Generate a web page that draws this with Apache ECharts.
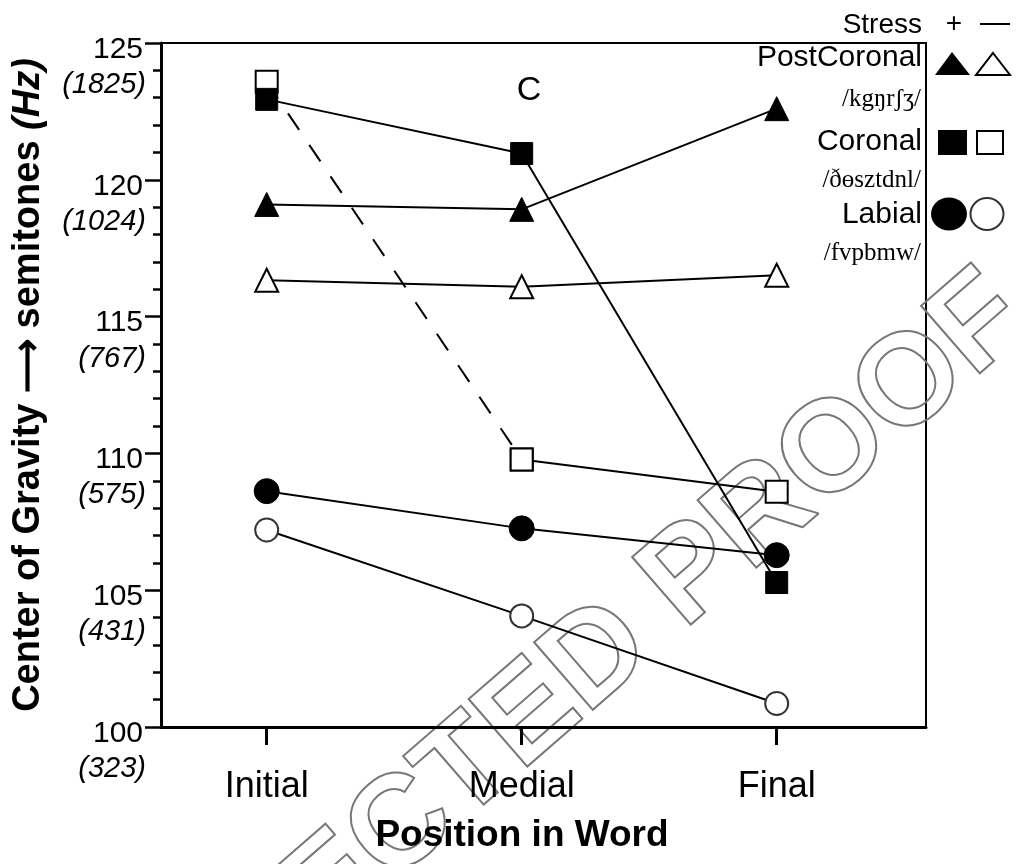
<!DOCTYPE html>
<html>
<head>
<meta charset="utf-8">
<title>Center of Gravity by Position in Word</title>
<script src="https://cdn.jsdelivr.net/npm/echarts@6/dist/echarts.min.js"></script>
<style>
  html, body { margin: 0; padding: 0; background: #fff; }
  #chart { width: 1016px; height: 864px; }
</style>
</head>
<body>
<div id="chart"></div>
<script>
// 位置类别
var categories = ['Initial', 'Medial', 'Final'];
// y轴刻度 (semitones) 以及对应的 Hz 标签
var yTicks = [100, 105, 110, 115, 120, 125];
var hzTicks = ['(323)', '(431)', '(575)', '(767)', '(1024)', '(1825)'];

// 各系列数值 (semitones)
var postCoronalStressed = [119.1, 118.92, 122.6];
var postCoronalUnstressed = [116.33, 116.09, 116.51];
var coronalStressed = [122.94, 120.96, 105.28];
var coronalUnstressed = [123.58, 109.78, 108.6];
var labialStressed = [108.62, 107.26, 106.28];
var labialUnstressed = [107.2, 104.06, 100.86];

function toPoints(arr) {
  return arr.map(function (v, i) { return [i + 1, v]; });
}

var filled = { color: '#000', borderColor: '#000', borderWidth: 1 };
var hollow = { color: '#fff', borderColor: '#000', borderWidth: 2 };
var hollowGray = { color: '#fff', borderColor: '#333', borderWidth: 2 };
var solidLine = { color: '#000', width: 2 };

function lineSeries(name, values, symbol, size, itemStyle, lineStyle) {
  return {
    name: name,
    type: 'line',
    data: toPoints(values),
    symbol: symbol,
    symbolSize: size,
    showAllSymbol: true,
    itemStyle: itemStyle,
    lineStyle: lineStyle || solidLine,
    emphasis: { disabled: true },
    silent: true,
    z: 3
  };
}

var chart = echarts.init(document.getElementById('chart'));
chart.setOption({
  animation: false,
  textStyle: { fontFamily: 'Liberation Sans, Arial, sans-serif' },
  grid: {
    left: 161, right: 90, top: 43, bottom: 137,
    show: true, borderColor: '#000', borderWidth: 2
  },
  xAxis: {
    type: 'value',
    min: 0.5855,
    max: 3.5855,
    splitLine: { show: false },
    axisLine: { lineStyle: { color: '#000', width: 3 } },
    axisTick: { customValues: [1, 2, 3], length: 18, lineStyle: { color: '#000', width: 3 } },
    axisLabel: {
      customValues: [1, 2, 3],
      formatter: function (v) { return categories[Math.round(v) - 1] || ''; },
      color: '#000', fontSize: 36, margin: 42
    },
    name: 'Position in Word',
    nameLocation: 'middle',
    nameGap: 90,
    nameTextStyle: { color: '#000', fontSize: 37, fontWeight: 'bold', padding: [0, 43, 0, 0] }
  },
  yAxis: {
    type: 'value',
    min: 100,
    max: 125,
    interval: 5,
    splitLine: { show: false },
    axisLine: { show: true, lineStyle: { color: '#000', width: 3 } },
    axisTick: { show: true, length: 16, lineStyle: { color: '#000', width: 2.5 } },
    minorTick: { show: true, splitNumber: 5, length: 8, lineStyle: { color: '#000', width: 2.5 } },
    axisLabel: {
      margin: 15,
      verticalAlign: 'top',
      formatter: function (v) {
        var i = yTicks.indexOf(v);
        return '{a|' + v + '}\n{b|' + (hzTicks[i] || '') + '}';
      },
      rich: {
        a: { fontSize: 30, color: '#000', lineHeight: 13, padding: [0, 3, 0, 0] },
        b: { fontSize: 29, color: '#000', fontStyle: 'italic', lineHeight: 58 }
      }
    },
    name: '{t|Center of Gravity \u27F6 semitones }{h|(Hz)}',
    nameLocation: 'middle',
    nameRotate: 90,
    nameGap: 113,
    nameTextStyle: {
      rich: {
        t: { fontSize: 38, fontWeight: 'bold', color: '#000' },
        h: { fontSize: 38, fontWeight: 'bold', fontStyle: 'italic', color: '#000' }
      }
    }
  },
  graphic: [
    // 水印
    {
      type: 'text', z: 0, silent: true,
      x: 440, y: 795, rotation: Math.PI * 41 / 180,
      style: {
        text: 'UNCORRECTED PROOF',
        x: 0, y: 0, align: 'center', verticalAlign: 'middle',
        font: 'bold 130px Liberation Sans, Arial, sans-serif',
        fill: 'rgba(255,255,255,0)', stroke: '#777', lineWidth: 2
      }
    },
    { type: 'text', z: 10, style: { text: 'C', x: 529, y: 91, align: 'center', verticalAlign: 'middle', font: '34px Liberation Sans, Arial, sans-serif', fill: '#000' } },
    // 图例
    { type: 'text', z: 10, style: { text: 'Stress', x: 922, y: 25, align: 'right', verticalAlign: 'middle', font: '28px Liberation Sans, Arial, sans-serif', fill: '#000' } },
    { type: 'text', z: 10, style: { text: '+', x: 954, y: 24, align: 'center', verticalAlign: 'middle', font: '28px Liberation Sans, Arial, sans-serif', fill: '#000' } },
    { type: 'text', z: 10, style: { text: '\u2014', x: 995, y: 24, align: 'center', verticalAlign: 'middle', font: '30px Liberation Sans, Arial, sans-serif', fill: '#000' } },
    { type: 'text', z: 10, style: { text: 'PostCoronal', x: 922, y: 58, align: 'right', verticalAlign: 'middle', font: '30px Liberation Sans, Arial, sans-serif', fill: '#000' } },
    { type: 'text', z: 10, style: { text: '/kg\u014Br\u0283\u0292/', x: 921, y: 99, align: 'right', verticalAlign: 'middle', font: '25px Liberation Serif, DejaVu Serif, serif', fill: '#000' } },
    { type: 'text', z: 10, style: { text: 'Coronal', x: 922, y: 142, align: 'right', verticalAlign: 'middle', font: '30px Liberation Sans, Arial, sans-serif', fill: '#000' } },
    { type: 'text', z: 10, style: { text: '/\u00F0\u0275sztdnl/', x: 921, y: 180, align: 'right', verticalAlign: 'middle', font: '25px Liberation Serif, DejaVu Serif, serif', fill: '#000' } },
    { type: 'text', z: 10, style: { text: 'Labial', x: 922, y: 215, align: 'right', verticalAlign: 'middle', font: '30px Liberation Sans, Arial, sans-serif', fill: '#000' } },
    { type: 'text', z: 10, style: { text: '/fvpbmw/', x: 921, y: 253, align: 'right', verticalAlign: 'middle', font: '25px Liberation Serif, DejaVu Serif, serif', fill: '#000' } },
    { type: 'polygon', z: 10, shape: { points: [[952, 52], [970, 75], [935, 75]] }, style: { fill: '#000' } },
    { type: 'polygon', z: 10, shape: { points: [[993, 53], [1010, 75], [976, 75]] }, style: { fill: '#fff', stroke: '#000', lineWidth: 2 } },
    { type: 'rect', z: 10, shape: { x: 938, y: 130, width: 29, height: 25 }, style: { fill: '#000' } },
    { type: 'rect', z: 10, shape: { x: 977, y: 131, width: 26, height: 23 }, style: { fill: '#fff', stroke: '#000', lineWidth: 2 } },
    { type: 'ellipse', z: 10, shape: { cx: 949, cy: 214, rx: 18, ry: 16.5 }, style: { fill: '#000' } },
    { type: 'ellipse', z: 10, shape: { cx: 987, cy: 214, rx: 16.5, ry: 16 }, style: { fill: '#fff', stroke: '#333', lineWidth: 2 } }
  ],
  series: [
    lineSeries('Labial −', labialUnstressed, 'circle', 23, hollowGray),
    lineSeries('Labial +', labialStressed, 'circle', 25, filled),
    // Coronal − : 前段虚线, 后段实线
    lineSeries('Coronal − a', [coronalUnstressed[0], coronalUnstressed[1], null], 'rect', 22, hollow,
      { color: '#000', width: 2, type: [20, 18] }),
    lineSeries('Coronal − b', [null, coronalUnstressed[1], coronalUnstressed[2]], 'rect', 22, hollow),
    lineSeries('Coronal +', coronalStressed, 'rect', 22, filled),
    lineSeries('PostCoronal −', postCoronalUnstressed, 'triangle', 23, hollow),
    lineSeries('PostCoronal +', postCoronalStressed, 'triangle', 24, filled)
  ]
});
</script>
</body>
</html>
